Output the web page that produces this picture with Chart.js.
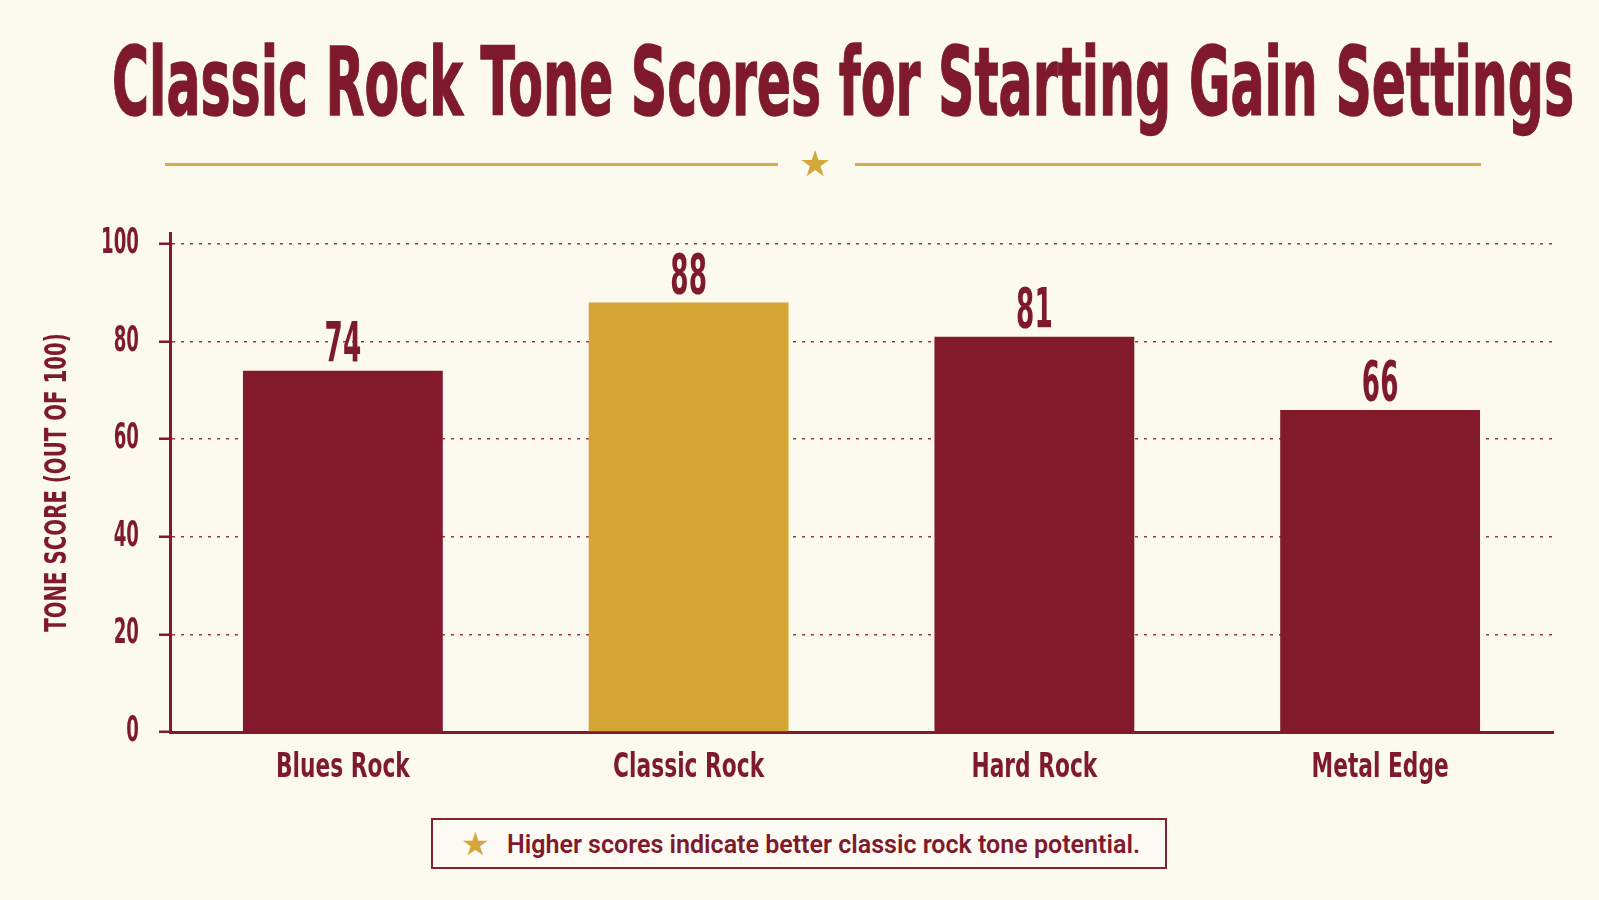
<!DOCTYPE html>
<html>
<head>
<meta charset="utf-8">
<script src="https://cdn.jsdelivr.net/npm/chart.js@4.4.1/dist/chart.umd.min.js"></script>
<style>
  html, body { margin: 0; padding: 0; background: #FCF9EF; }
  #wrap { position: relative; width: 1599px; height: 900px; overflow: hidden; }
  #graficoTom { position: absolute; left: 0; top: 0; }
  #titulo {
    position: absolute; left: 112px; top: 36px; margin: 0;
    font: 700 94px/94px "DejaVu Sans"; color: #7E1A2B; white-space: nowrap;
    transform-origin: 0 0; -webkit-text-stroke: 1.5px #7E1A2B;
  }
  .linha { position: absolute; top: 163px; height: 3px; background: #D4AE4B; }
  #estrela { position: absolute; left: 799px; top: 146px; font: 36px/36px "DejaVu Sans"; color: #D4A73A; }
  #nota {
    position: absolute; left: 431px; top: 818px; width: 732px; height: 47px;
    border: 2px solid #84202F; background: #FDFAF3;
  }
  #nota .est { position: absolute; left: 28px; top: 8px; font: 32px/32px "DejaVu Sans"; color: #D4A73A; }
  #nota .txt {
    position: absolute; left: 74px; top: 9px; white-space: nowrap;
    font: 600 26px/30px Roboto; color: #7E1A2B; transform-origin: 0 0;
  }
</style>
</head>
<body>
<div id="wrap">
  <canvas id="graficoTom" width="1599" height="900"></canvas>
  <span id="titulo">Classic Rock Tone Scores for Starting Gain Settings</span>
  <div class="linha" style="left:165px;width:613px"></div>
  <div class="linha" style="left:855px;width:626px"></div>
  <div id="estrela">★</div>
  <div id="nota"><span class="est">★</span><span class="txt">Higher scores indicate better classic rock tone potential.</span></div>
</div>
<script>
  // dados
  const categorias = ['Blues Rock', 'Classic Rock', 'Hard Rock', 'Metal Edge'];
  const pontuacoes = [74, 88, 81, 66];
  const destaque = 'Classic Rock';
  const yMin = 0, yMax = 102.25, yPasso = 20;
  const tituloEixoY = 'TONE SCORE (OUT OF 100)';

  const CARMIM = '#821A2B';
  const TEXTO = '#7E1A2B';
  const OURO = '#D6A634';

  function ajustarLargura(el, alvo) {
    const w = el.getBoundingClientRect().width;
    el.style.transform = 'scaleX(' + (alvo / w) + ')';
  }
  ajustarLargura(document.getElementById('titulo'), 1462);
  ajustarLargura(document.querySelector('#nota .txt'), 633);

  const canvas = document.getElementById('graficoTom');
  const ctx = canvas.getContext('2d');

  // fonte condensada: espreme o texto na horizontal (por tamanho de fonte)
  const apertoPorTamanho = { 34: 0.64, 35: 0.52, 30: 0.66, 56: 0.47 };
  const fillTextOriginal = ctx.fillText;
  ctx.fillText = function (texto, x, y) {
    const m = /(\d+)px/.exec(this.font);
    const aperto = (m && apertoPorTamanho[m[1]]) || 0.6;
    this.save();
    this.translate(x, y);
    this.scale(aperto, 1);
    fillTextOriginal.call(this, texto, 0, 0);
    this.restore();
  };

  const rotulosValor = {
    id: 'rotulosValor',
    afterDatasetsDraw(chart) {
      const c = chart.ctx;
      const meta = chart.getDatasetMeta(0);
      c.save();
      c.font = 'bold 56px "DejaVu Sans"';
      c.fillStyle = TEXTO;
      c.textAlign = 'center';
      c.textBaseline = 'alphabetic';
      meta.data.forEach((barra, i) => {
        c.fillText(String(pontuacoes[i]), barra.x, barra.y - 10);
      });
      c.restore();
    }
  };

  new Chart(ctx, {
    type: 'bar',
    data: {
      labels: categorias,
      datasets: [{
        data: pontuacoes,
        backgroundColor: categorias.map(c => c === destaque ? OURO : CARMIM),
        borderWidth: 0,
        categoryPercentage: 1,
        barPercentage: 0.578
      }]
    },
    options: {
      responsive: false,
      animation: false,
      layout: { padding: { top: 233, right: 46, bottom: 88, left: 0 } },
      plugins: { legend: { display: false }, tooltip: { enabled: false } },
      scales: {
        x: {
          grid: { display: false, drawTicks: false },
          border: { display: true, color: CARMIM, width: 3 },
          ticks: {
            color: TEXTO, padding: 16,
            font: { family: '"DejaVu Sans"', weight: 'bold', size: 34 }
          },
          afterFit(s) { s.height = 80; }
        },
        y: {
          min: yMin, max: yMax,
          ticks: {
            stepSize: yPasso, includeBounds: false, color: TEXTO, padding: 20,
            font: { family: '"DejaVu Sans"', weight: 'bold', size: 35 }
          },
          grid: {
            color: 'rgba(130, 26, 43, 0.85)', lineWidth: 1.5,
            tickLength: 11, tickColor: CARMIM, tickWidth: 2.5, tickBorderDash: []
          },
          border: { color: CARMIM, width: 3, dash: [3, 6] },
          title: {
            display: true, text: tituloEixoY, color: TEXTO,
            font: { family: '"DejaVu Sans"', weight: 'bold', size: 30 },
            padding: { top: 40, bottom: 0 }
          },
          afterFit(s) { s.width = 170; }
        }
      }
    },
    plugins: [rotulosValor]
  });
</script>
</body>
</html>
